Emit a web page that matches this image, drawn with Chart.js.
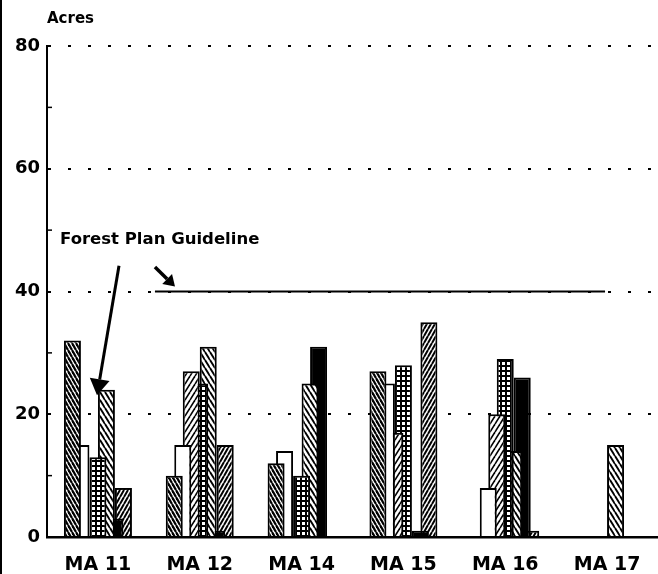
<!DOCTYPE html>
<html><head><meta charset="utf-8">
<script src="https://cdn.jsdelivr.net/npm/chart.js@4.4.0/dist/chart.umd.min.js"></script>
<style>html,body{margin:0;padding:0;background:#fff}#wrap{width:658px;height:574px;position:relative}</style>
</head><body><div id="wrap"><canvas id="c" width="658" height="574"></canvas></div>
<script>
// ---- data ----
const categories = ['MA 11', 'MA 12', 'MA 14', 'MA 15', 'MA 16', 'MA 17'];
const denseBackslash  = [32, 10, 12, 27, null, null];
const openBars        = [15, 15, 14, 25, 8, null];
const lightSlash      = [null, 27, null, 17, 20, null];
const gridBars        = [13, 25, 10, 28, 29, null];
const mediumBackslash = [24, 31, 25, null, 14, 15];
const solidBars       = [3, 1, 31, 1, 26, null];
const denseSlash      = [8, 15, null, 35, 1, null];
const yTicks = [0, 20, 40, 60, 80];
const minorTicks = [10, 30, 50, 70];
const guidelineValue = 40;
const yTitle = 'Acres';
const guidelineLabel = 'Forest Plan Guideline';

const canvas = document.getElementById('c');
const ctx = canvas.getContext('2d');

function hatch(dir, w, h, lw, bg) {
  const c = document.createElement('canvas'); c.width = w; c.height = h;
  const g = c.getContext('2d');
  g.fillStyle = bg; g.fillRect(0, 0, w, h);
  g.strokeStyle = '#000'; g.lineWidth = lw;
  for (const off of [-w, 0, w]) {
    g.beginPath();
    if (dir === '\\') { g.moveTo(off, 0); g.lineTo(off + w, h); }
    else { g.moveTo(off, h); g.lineTo(off + w, 0); }
    g.stroke();
  }
  return ctx.createPattern(c, 'repeat');
}
function gridPat() {
  const c = document.createElement('canvas'); c.width = 5; c.height = 5;
  const g = c.getContext('2d');
  g.fillStyle = '#000'; g.fillRect(0, 0, 5, 5);
  g.fillStyle = '#fff'; g.fillRect(2, 2, 3, 3);
  return ctx.createPattern(c, 'repeat');
}

const styles = [
  hatch('\\', 4, 7, 2.2, '#fff'),
  '#ffffff',
  hatch('/', 5, 8, 1.6, '#fff'),
  gridPat(),
  hatch('\\', 5, 8, 1.9, '#fff'),
  '#000000',
  hatch('/', 4, 7, 2.0, '#fff')
];
const seriesList = [denseBackslash, openBars, lightSlash, gridBars, mediumBackslash, solidBars, denseSlash];

const datasets = seriesList.map((d, i) => ({
  data: d,
  backgroundColor: styles[i],
  borderColor: '#000',
  borderWidth: 2,
  categoryPercentage: 0.584,
  barPercentage: 2.0
}));

const FONT = 'DejaVu Sans';

function arrow(c, x1, y1, x2, y2, shaftW, headL, headW) {
  const ang = Math.atan2(y2 - y1, x2 - x1);
  const bx = x2 - headL * Math.cos(ang), by = y2 - headL * Math.sin(ang);
  c.strokeStyle = '#000'; c.lineWidth = shaftW; c.lineCap = 'butt';
  c.beginPath(); c.moveTo(x1, y1); c.lineTo(bx, by); c.stroke();
  c.fillStyle = '#000';
  c.beginPath();
  c.moveTo(x2, y2);
  c.lineTo(bx + headW * Math.sin(ang), by - headW * Math.cos(ang));
  c.lineTo(bx - headW * Math.sin(ang), by + headW * Math.cos(ang));
  c.closePath(); c.fill();
}

const annot = {
  id: 'annot',
  beforeDraw(chart) {
    const c = chart.ctx;
    c.save();
    c.fillStyle = '#000';
    c.fillRect(0, 0, 2, chart.height);
    c.restore();
  },
  afterDatasetsDraw(chart) {
    const c = chart.ctx, x = chart.scales.x, y = chart.scales.y, a = chart.chartArea;
    c.save();
    const gy = y.getPixelForValue(guidelineValue);
    c.strokeStyle = '#000'; c.lineWidth = 2;
    c.beginPath(); c.moveTo(x.getPixelForValue(0.56), gy); c.lineTo(x.getPixelForValue(4.98), gy); c.stroke();
    c.lineWidth = 1.5;
    minorTicks.forEach(v => {
      const py = y.getPixelForValue(v);
      c.beginPath(); c.moveTo(a.left, py); c.lineTo(a.left + 5, py); c.stroke();
    });
    arrow(c, x.getPixelForValue(0.207), y.getPixelForValue(44.2), x.getPixelForValue(-0.009), y.getPixelForValue(23.1), 3, 16, 10);
    arrow(c, x.getPixelForValue(0.56), y.getPixelForValue(44.0), x.getPixelForValue(0.757), y.getPixelForValue(40.8), 3.5, 11, 7);
    c.fillStyle = '#000';
    c.textBaseline = 'middle'; c.textAlign = 'left';
    c.font = 'bold 16.5px "' + FONT + '"';
    c.fillText(guidelineLabel, x.getPixelForValue(-0.372), y.getPixelForValue(48.4));
    c.font = 'bold 15px "' + FONT + '"';
    c.fillText(yTitle, a.left, a.top - 27);
    c.restore();
  }
};

new Chart(canvas, {
  type: 'bar',
  data: { labels: categories, datasets },
  options: {
    responsive: false,
    devicePixelRatio: 1,
    animation: false,
    layout: { padding: { top: 46, left: 0, right: 0, bottom: 0 } },
    plugins: { legend: { display: false }, tooltip: { enabled: false }, title: { display: false } },
    scales: {
      x: {
        type: 'category',
        offset: true,
        grid: { display: false },
        border: { display: true, color: '#000', width: 2.5 },
        ticks: { color: '#000', font: { family: FONT, size: 19, weight: 'bold' }, padding: 9, maxRotation: 0, autoSkip: false },
        afterFit(s) { s.height = 37; }
      },
      y: {
        min: 0, max: 80,
        afterBuildTicks(s) { s.ticks = yTicks.map(v => ({ value: v })); },
        grid: { color: '#000', lineWidth: 2, drawTicks: false },
        border: { display: true, color: '#000', width: 2, dash: [3, 17] },
        ticks: { color: '#000', font: { family: FONT, size: 18, weight: 'bold' }, padding: 7 },
        afterFit(s) { s.width = 47; }
      }
    }
  },
  plugins: [annot]
});
</script>
</body></html>
